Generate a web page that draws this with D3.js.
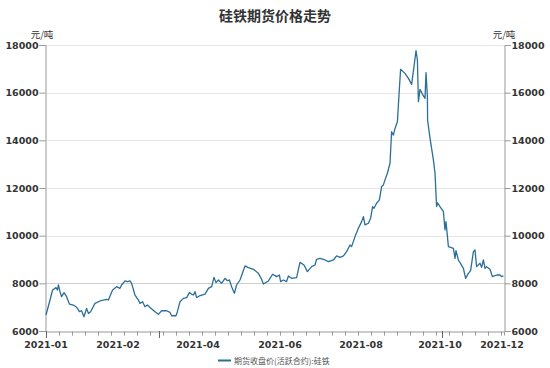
<!DOCTYPE html>
<html>
<head>
<meta charset="utf-8">
<script src="https://cdn.jsdelivr.net/npm/d3@7"></script>
<style>
  body { margin: 0; background: #fff; }
  text { font-family: "DejaVu Sans", "Noto Sans CJK SC", sans-serif; }
</style>
</head>
<body>
<script>
// trading day number (0 = 2021-01-04) and close price
var day = [0, 2, 3.3, 5, 5.7, 6.2, 7, 7.8, 9, 10.3, 11.7, 13.7, 15, 15.7, 16.7, 17.8, 19, 20.3, 21.2, 22.3,
  24.5, 27, 30.3, 31.2, 33.3, 35.3, 37, 37.8, 39.5, 40.7, 42, 42.8, 44.5, 46.2, 47, 48.3, 49.5, 50.7, 52, 54.5,
  56.2, 57.8, 60.3, 62, 62.8, 65, 65.7, 67, 68.7, 70.3, 71.7, 72.8, 73.7, 74.5, 75.3, 76.7, 79.5, 81.2, 82.8, 84,
  85, 86.2, 87.8, 89.5, 90.7, 91.7, 92.8, 94.2, 95.3, 97, 99.5, 101.2, 103.7, 106.2, 107.8, 108.7, 111.2, 113.3, 115.3, 116.7,
  117.3, 118.7, 120.3, 121.2, 122.8, 125.3, 126.7, 127, 129, 130.7, 132.8, 134.5, 135.3, 137, 139.5, 141.2, 143.7, 145.3, 147, 148.7,
  150.3, 152, 152.8, 154.5, 156.2, 157.8, 158.7, 159.5, 161.2, 162.3, 163.3, 164, 165.3, 166.7, 167.8, 168.7, 169.5, 170.7, 172, 172.8,
  173.7, 174.5, 175.7, 176.5, 177.3, 179.5, 181.2, 182.8, 184, 185, 185.7, 186.2, 187, 188.2, 189.5, 190, 190.7, 190.8, 192, 193.7,
  194.5, 195.3, 195.8, 197, 198.7, 199.5, 200, 201.2, 203.7, 204.5, 205, 206.2, 208.7, 209.8, 211.2, 212.3, 213.7, 214.5, 215.3, 217,
  217.8, 218.7, 219.5, 220.3, 222, 223.2, 225.3, 227, 227.8, 228.7];
var price = [6670, 7300, 7720, 7820, 7720, 7930, 7650, 7440, 7610, 7440, 7130, 7090, 7020, 6950, 6810, 6850, 6600, 6950, 6740, 6810,
  7160, 7260, 7330, 7300, 7720, 7860, 7790, 7930, 8100, 8070, 8100, 8000, 7510, 7300, 7160, 7230, 7020, 7090, 6990, 6810,
  6700, 6850, 6850, 6780, 6640, 6640, 6810, 7230, 7370, 7400, 7610, 7550, 7510, 7650, 7400, 7470, 7550, 7790, 7860, 8250,
  8030, 8140, 8000, 8210, 8110, 8140, 7860, 7580, 7930, 8140, 8730, 8660, 8590, 8420, 8170, 7970, 8100, 8380, 8280, 8350,
  8070, 8140, 8070, 8310, 8210, 8240, 8770, 8880, 8770, 8490, 8700, 8770, 9010, 9050, 8980, 8910, 8980, 9150, 9090, 9150,
  9330, 9610, 9540, 9960, 10310, 10590, 10800, 10450, 10520, 10730, 11220, 11150, 11360, 11500, 12060, 12130, 12340, 12620, 13040, 14360,
  14220, 14500, 14780, 15900, 16980, 16810, 16600, 16350, 17090, 17760, 17370, 15620, 16140, 15940, 15760, 16840, 15830, 14850, 14090, 13180,
  12620, 11220, 11380, 11220, 11010, 10240, 10590, 9540, 9470, 9050, 9370, 8980, 8630, 8210, 8420, 8530, 9330, 9400, 8700, 8840,
  8670, 8980, 8630, 8700, 8590, 8280, 8350, 8350, 8280, 8310];

var yTicks = [6000, 8000, 10000, 12000, 14000, 16000, 18000];
var xLabelDay = [0, 36, 76, 117, 157.5, 197, 228];
var xLabels = ["2021-01", "2021-02", "2021-04", "2021-06", "2021-08", "2021-10", "2021-12"];
var xMajorDay = [0, 56.5, 198];

var width = 550,
  height = 368;
var margin = { top: 45, bottom: 37, left: 46, right: 46 };

var svg = d3.select('body')
  .append('svg')
  .attr('width', width)
  .attr('height', height);

var xScale = d3.scaleLinear()
  .domain([0, 229])
  .range([margin.left, width - margin.right]);

var yScale = d3.scaleLinear()
  .domain([6000, 18000])
  .range([height - margin.bottom, margin.top]);

// title
svg.append('text')
  .attr('x', width / 2)
  .attr('y', 21)
  .attr('text-anchor', 'middle')
  .style('font-family', '"Noto Sans CJK SC"')
  .style('font-size', '14px')
  .style('font-weight', 'bold')
  .style('fill', '#333')
  .text('硅铁期货价格走势');

// grid
svg.selectAll('.grid')
  .data(yTicks.slice(1))
  .enter()
  .append('line')
  .attr('class', 'grid')
  .attr('x1', margin.left)
  .attr('x2', width - margin.right)
  .attr('y1', function(d) { return Math.round(yScale(d)) + 0.5; })
  .attr('y2', function(d) { return Math.round(yScale(d)) + 0.5; })
  .style('stroke', function(d) { return d === 8000 ? '#cfcfcf' : '#e6e6e6'; })
  .style('stroke-width', 1);

// y axes both sides
var yLeft = svg.append('g')
  .attr('transform', 'translate(' + (margin.left - 0.5) + ',0)')
  .call(d3.axisLeft(yScale).tickValues(yTicks).tickSize(6).tickFormat(d3.format('d')));
var yRight = svg.append('g')
  .attr('transform', 'translate(' + (width - margin.right + 0.5) + ',0)')
  .call(d3.axisRight(yScale).tickValues(yTicks).tickSize(6).tickFormat(d3.format('d')));

[yLeft, yRight].forEach(function(g) {
  g.select('.domain').style('stroke', '#999');
  g.selectAll('.tick line').style('stroke', '#999');
  g.selectAll('.tick text')
    .style('font-family', '"DejaVu Sans"')
    .style('font-size', '9.5px')
    .style('font-weight', 'bold')
    .style('fill', '#333');
});
yLeft.selectAll('.tick text').attr('x', -7);
yRight.selectAll('.tick text').attr('x', 7);

// unit labels
svg.append('text').attr('x', 42).attr('y', 38).attr('text-anchor', 'middle')
  .style('font-size', '9.5px').style('fill', '#333').style('font-family', '"Noto Sans CJK SC"').text('元/吨');
svg.append('text').attr('x', 504).attr('y', 38).attr('text-anchor', 'middle')
  .style('font-size', '9.5px').style('fill', '#333').style('font-family', '"Noto Sans CJK SC"').text('元/吨');

// x axis
var xAxis = svg.append('g')
  .attr('transform', 'translate(0,' + (yScale(6000) + 0.5) + ')')
  .call(d3.axisBottom(xScale).tickValues(d3.range(0, 229, 6.5)).tickSize(4).tickFormat(''));
xAxis.select('.domain').style('stroke', '#999');
xAxis.selectAll('.tick line').style('stroke', '#999');

svg.selectAll('.xmajor')
  .data(xMajorDay)
  .enter()
  .append('line')
  .attr('class', 'xmajor')
  .attr('x1', function(d) { return Math.round(xScale(d)) + 0.5; })
  .attr('x2', function(d) { return Math.round(xScale(d)) + 0.5; })
  .attr('y1', yScale(6000))
  .attr('y2', yScale(6000) + 7)
  .style('stroke', '#666');

svg.selectAll('.xlabel')
  .data(xLabels)
  .enter()
  .append('text')
  .attr('class', 'xlabel')
  .attr('x', function(d, i) { return xScale(xLabelDay[i]); })
  .attr('y', 348)
  .attr('text-anchor', 'middle')
  .style('font-family', '"DejaVu Sans"')
  .style('font-size', '9.5px')
  .style('font-weight', 'bold')
  .style('fill', '#333')
  .text(function(d) { return d; });

// price line
var line = d3.line()
  .x(function(d, i) { return xScale(day[i]); })
  .y(function(d) { return yScale(d); });

svg.append('path')
  .datum(price)
  .attr('d', line)
  .style('fill', 'none')
  .style('stroke', '#2b6f97')
  .style('stroke-width', 1.3)
  .style('stroke-linejoin', 'round');

// legend
svg.append('line').attr('x1', 218).attr('x2', 231).attr('y1', 360.5).attr('y2', 360.5)
  .style('stroke', '#2b6f97').style('stroke-width', 2);
svg.append('text').attr('x', 234).attr('y', 363.5)
  .style('font-family', '"Noto Sans CJK SC"').style('font-size', '8px').style('fill', '#555')
  .text('期货收盘价(活跃合约):硅铁');
</script>
</body>
</html>
